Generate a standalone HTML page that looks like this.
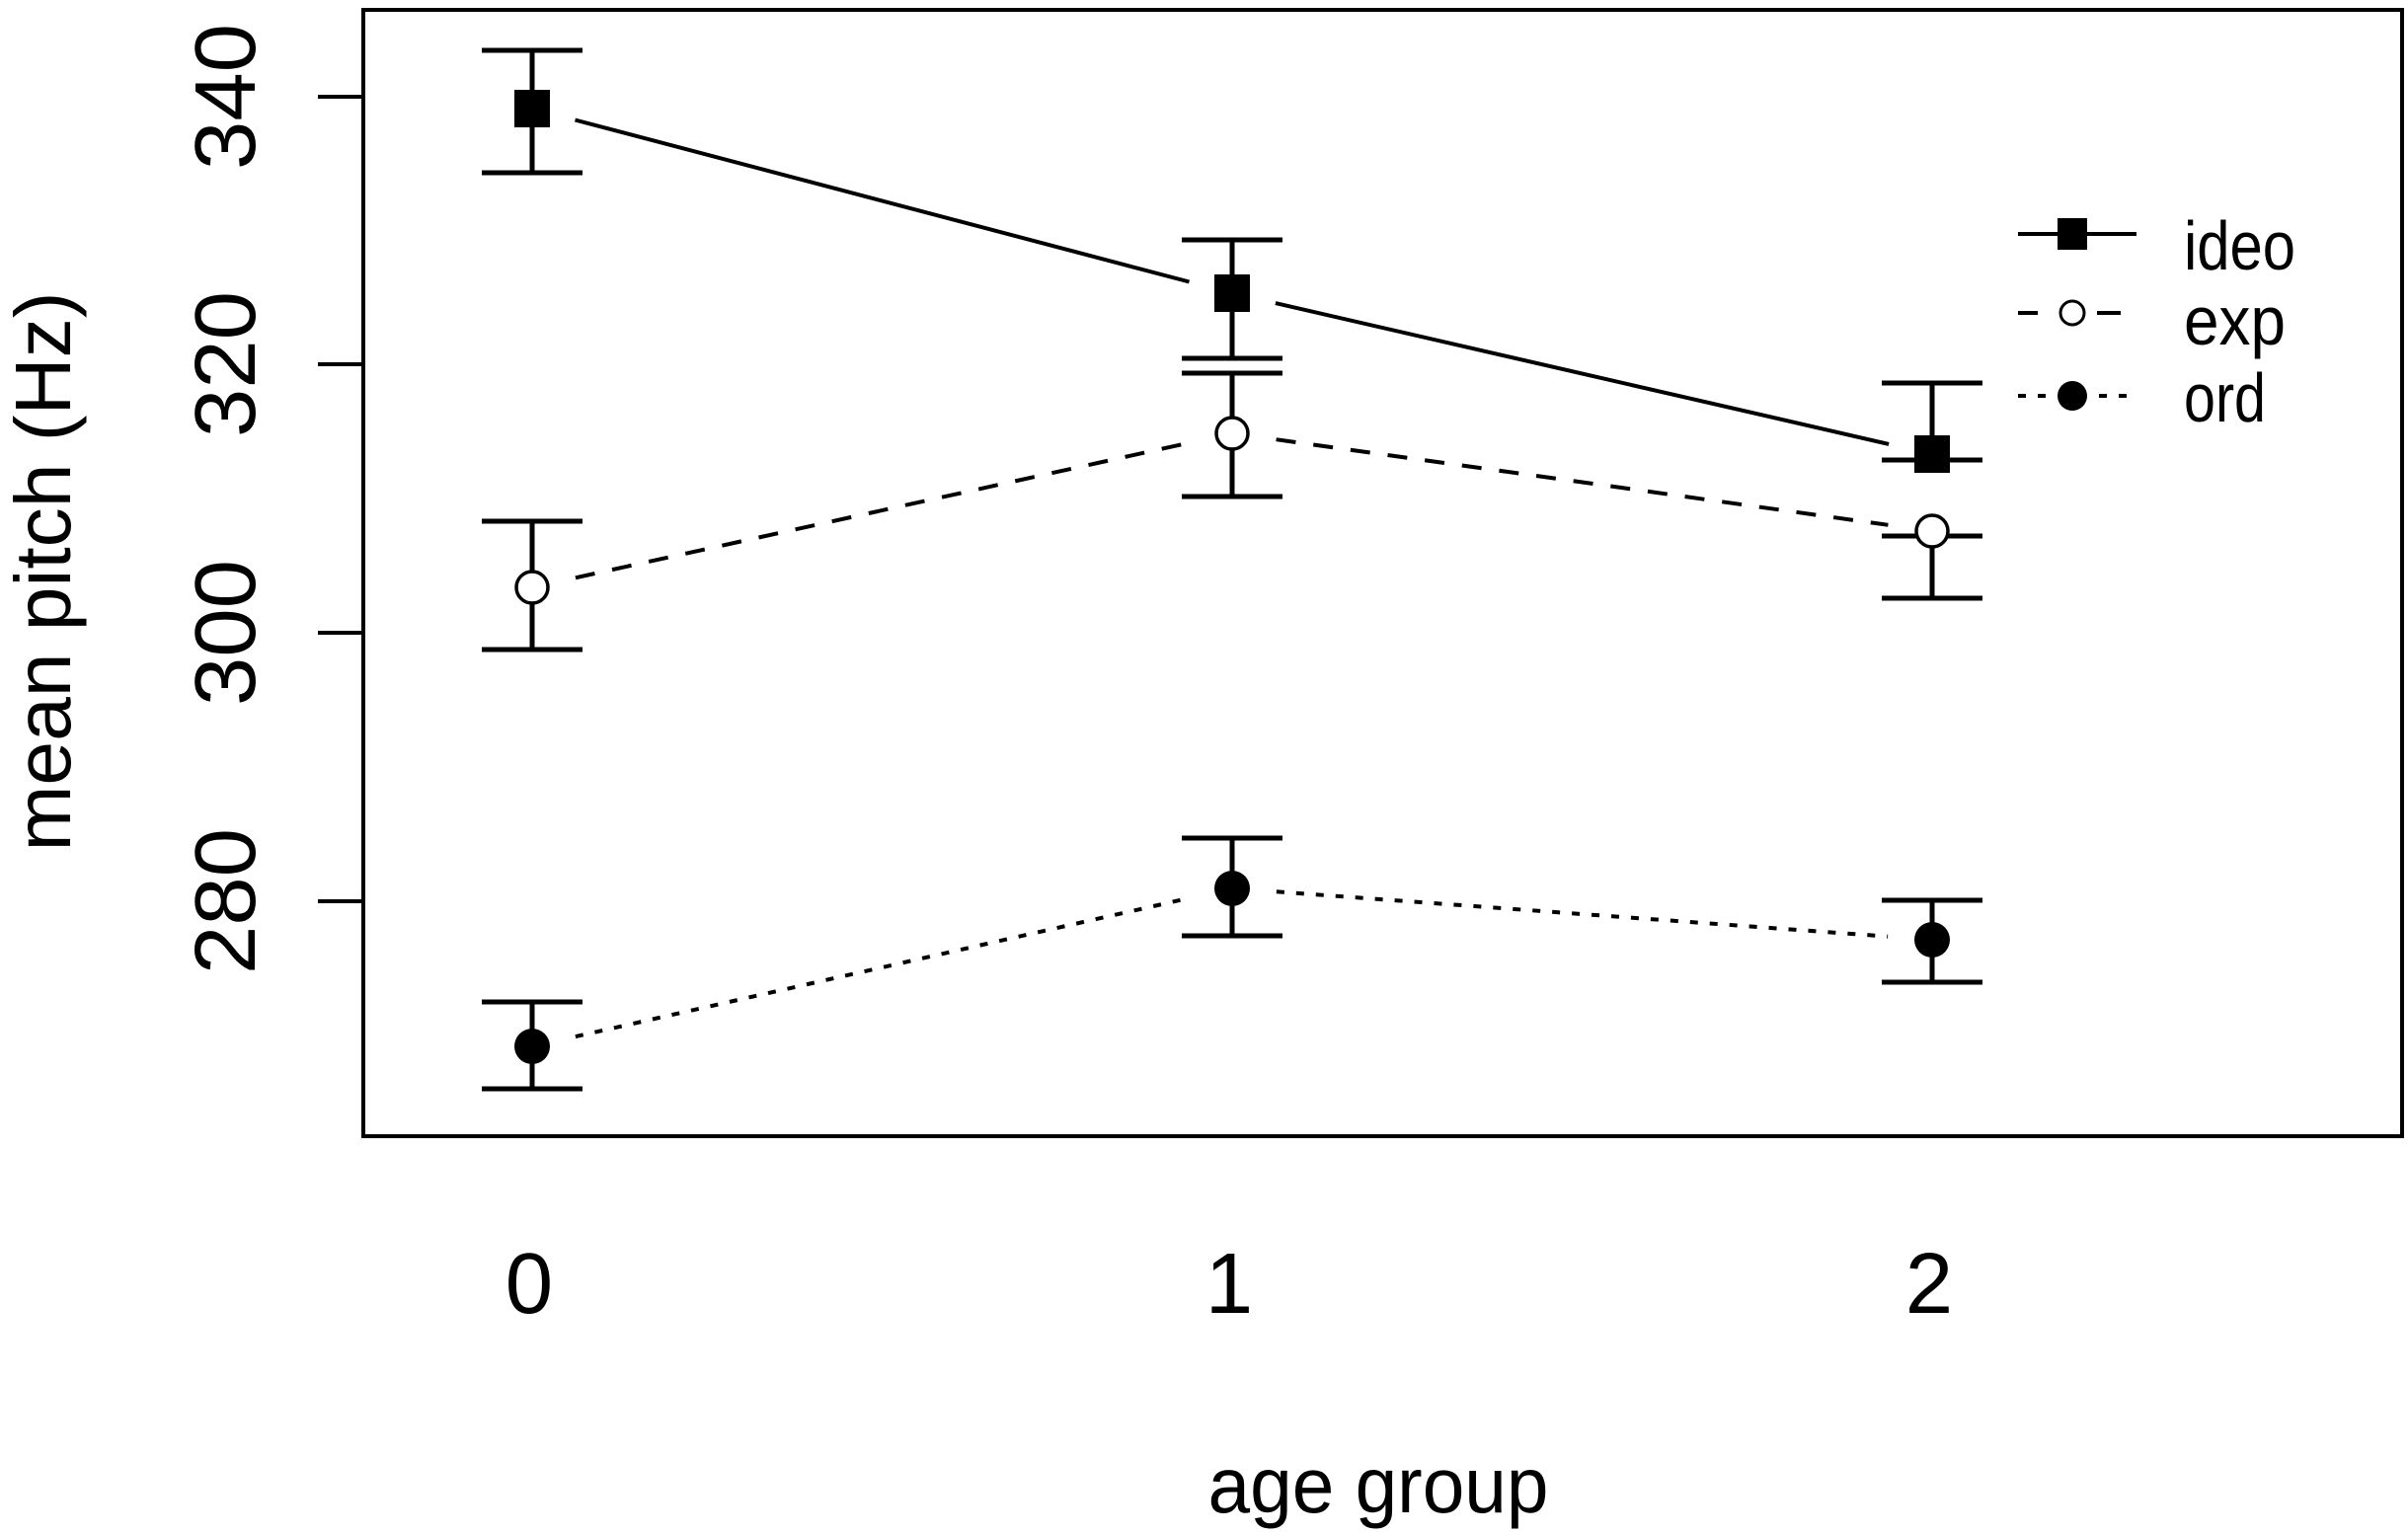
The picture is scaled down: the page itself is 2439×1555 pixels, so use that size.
<!DOCTYPE html>
<html><head><meta charset="utf-8"><style>
html,body{margin:0;padding:0;background:#fff;}
svg{display:block;}
text{font-family:"Liberation Sans",Arial,sans-serif;fill:#000;}
</style></head><body>
<svg width="2439" height="1555" viewBox="0 0 2439 1555" xmlns="http://www.w3.org/2000/svg">
<rect x="0" y="0" width="2439" height="1555" fill="#fff"/>
<rect x="368" y="10" width="2065" height="1141" fill="none" stroke="#000" stroke-width="4"/>
<g stroke="#000" stroke-width="4">
<line x1="322" y1="98" x2="368" y2="98"/>
<line x1="322" y1="369" x2="368" y2="369"/>
<line x1="322" y1="641" x2="368" y2="641"/>
<line x1="322" y1="913" x2="368" y2="913"/>
</g>
<g font-size="87" text-anchor="middle">
<text transform="translate(258,98) rotate(-90)" textLength="148" lengthAdjust="spacingAndGlyphs">340</text>
<text transform="translate(258,369) rotate(-90)" textLength="148" lengthAdjust="spacingAndGlyphs">320</text>
<text transform="translate(258,641) rotate(-90)" textLength="148" lengthAdjust="spacingAndGlyphs">300</text>
<text transform="translate(258,913) rotate(-90)" textLength="148" lengthAdjust="spacingAndGlyphs">280</text>
<text x="536" y="1330">0</text>
<text x="1245" y="1330">1</text>
<text x="1954" y="1330">2</text>
</g>
<text x="1396" y="1532" font-size="80" text-anchor="middle" textLength="345" lengthAdjust="spacingAndGlyphs">age group</text>
<text transform="translate(71,579) rotate(-90)" font-size="80" text-anchor="middle" textLength="567" lengthAdjust="spacingAndGlyphs">mean pitch (Hz)</text>

<g stroke="#000" stroke-width="4" fill="none">
<line x1="582.5" y1="121.5" x2="1204.5" y2="285.5"/>
<line x1="1291.9" y1="307.1" x2="1913.1" y2="449.9"/>
<g stroke-dasharray="20 18">
<line x1="582.9" y1="585.3" x2="1204.1" y2="448.7"/>
<line x1="1292.6" y1="445.2" x2="1912.4" y2="531.8"/>
</g>
<g stroke-dasharray="8 12">
<line x1="582.9" y1="1050.1" x2="1204.1" y2="909.9"/>
<line x1="1292.9" y1="903.3" x2="1912.1" y2="948.7"/>
</g>
</g>
<g stroke="#000" stroke-width="5" fill="none">
<path d="M539 51V175M488 51H590M488 175H590"/>
<path d="M1248 243V363M1197 243H1299M1197 363H1299"/>
<path d="M1957 388V466M1906 388H2008M1906 466H2008"/>
<path d="M539 528V658M488 528H590M488 658H590"/>
<path d="M1248 378V503M1197 378H1299M1197 503H1299"/>
<path d="M1957 543V606M1906 543H2008M1906 606H2008"/>
<path d="M539 1015V1103M488 1015H590M488 1103H590"/>
<path d="M1248 849V948M1197 849H1299M1197 948H1299"/>
<path d="M1957 912V995M1906 912H2008M1906 995H2008"/>
</g>
<g fill="#000">
<rect x="521" y="91" width="36" height="38"/>
<rect x="1230" y="278" width="36" height="38"/>
<rect x="1939" y="441" width="36" height="38"/>
<circle cx="539" cy="1060" r="18"/>
<circle cx="1248" cy="900" r="18"/>
<circle cx="1957" cy="952" r="18"/>
</g>
<g fill="#fff" stroke="#000" stroke-width="3.5">
<circle cx="539" cy="595" r="16"/>
<circle cx="1248" cy="439" r="16"/>
<circle cx="1957" cy="538" r="16"/>
</g>
<g stroke="#000" stroke-width="4" fill="none">
<line x1="2044" y1="237" x2="2164" y2="237"/>
<path d="M2044 317H2064M2124 317H2148"/>
<path d="M2044 401H2052M2064 401H2072M2126 401H2134M2146 401H2154"/>
</g>
<rect x="2084" y="221" width="30" height="32" fill="#000"/>
<circle cx="2099" cy="317" r="12" fill="#fff" stroke="#000" stroke-width="3"/>
<circle cx="2099" cy="401" r="15" fill="#000"/>
<g font-size="70">
<text x="2212" y="273" textLength="113" lengthAdjust="spacingAndGlyphs">ideo</text>
<text x="2212" y="349" textLength="103" lengthAdjust="spacingAndGlyphs">exp</text>
<text x="2212" y="427" textLength="83" lengthAdjust="spacingAndGlyphs">ord</text>
</g>
</svg>
</body></html>
